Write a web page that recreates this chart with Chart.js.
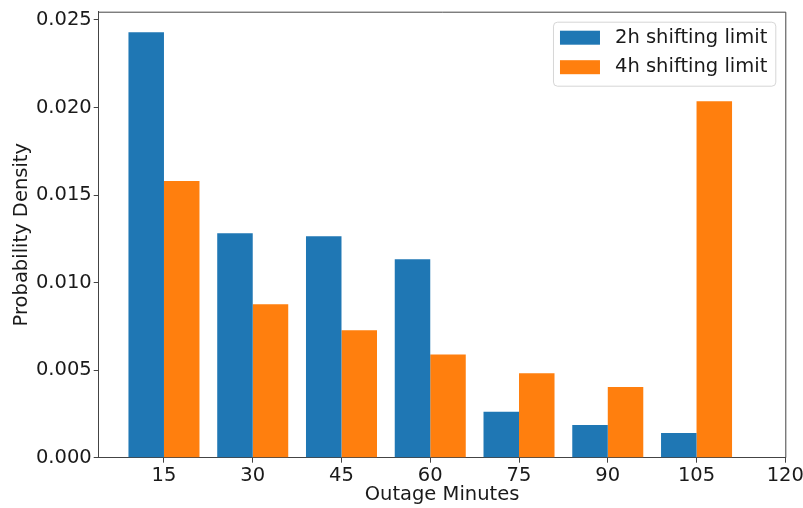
<!DOCTYPE html>
<html>
<head>
<meta charset="utf-8">
<script src="https://cdn.jsdelivr.net/npm/chart.js@4/dist/chart.umd.min.js"></script>
<style>
  html, body { margin: 0; padding: 0; background: #fff; }
  #wrap { width: 803px; height: 508px; }
</style>
</head>
<body>
<div id="wrap"><canvas id="c" width="803" height="508"></canvas></div>
<script>
// Outage-duration bins (minutes) and probability density per bin
const binMinutes = [15, 30, 45, 60, 75, 90, 105];
const limit2h = [0.02430, 0.01282, 0.01265, 0.01133, 0.00263, 0.00187, 0.00141];
const limit4h = [0.01580, 0.00876, 0.00728, 0.00590, 0.00482, 0.00404, 0.02036];
const xTickValues = [15, 30, 45, 60, 75, 90, 105, 120];
const yTickValues = [0.000, 0.005, 0.010, 0.015, 0.020, 0.025];
const seriesNames = ['2h shifting limit', '4h shifting limit'];

const FONT = 'DejaVu Sans';
const FSIZE = 19.5;
const SPINE = '#444';

const toPoints = (vals) => vals.map((v, i) => ({ x: binMinutes[i], y: v }));

// Frame on all four sides plus a boxed legend in the top-right corner
const framePlugin = {
  id: 'frame',
  afterDatasetsDraw(chart) {
    const { ctx, chartArea: a } = chart;
    ctx.save();
    ctx.strokeStyle = SPINE;
    ctx.lineWidth = 1;
    ctx.beginPath();
    ctx.moveTo(a.left, a.top + 0.5);
    ctx.lineTo(a.right + 0.5, a.top + 0.5);
    ctx.lineTo(a.right + 0.5, a.bottom);
    ctx.stroke();
    ctx.restore();

    // legend
    const items = chart.data.datasets.map(d => ({ label: d.label, color: d.backgroundColor }));
    ctx.save();
    ctx.font = FSIZE + 'px "' + FONT + '"';
    const textW = Math.max(...items.map(it => ctx.measureText(it.label).width));
    const w = 7 + 40 + 15 + textW + 8;
    const h = 64;
    const x0 = a.right - 10 - w;
    const y0 = a.top + 10;
    ctx.globalAlpha = 0.8;
    ctx.fillStyle = '#fff';
    ctx.strokeStyle = '#cccccc';
    ctx.lineWidth = 1;
    ctx.beginPath();
    ctx.roundRect(x0 + 0.5, y0 + 0.5, w, h, 4);
    ctx.fill();
    ctx.stroke();
    ctx.globalAlpha = 1;
    items.forEach((it, i) => {
      const cy = y0 + 16 + i * 29.5;
      ctx.fillStyle = it.color;
      ctx.fillRect(x0 + 7, cy - 7, 40, 14);
      ctx.fillStyle = '#1a1a1a';
      ctx.textBaseline = 'middle';
      ctx.textAlign = 'left';
      ctx.fillText(it.label, x0 + 7 + 40 + 15, cy);
    });
    ctx.restore();
  }
};

new Chart(document.getElementById('c'), {
  type: 'bar',
  data: {
    datasets: [
      { label: seriesNames[0], data: toPoints(limit2h), backgroundColor: '#1f77b4', borderWidth: 0 },
      { label: seriesNames[1], data: toPoints(limit4h), backgroundColor: '#ff7f0e', borderWidth: 0 }
    ]
  },
  options: {
    responsive: false,
    animation: false,
    events: [],
    layout: { padding: { left: 0, right: 17.7, top: 11.7, bottom: 0 } },
    datasets: { bar: { categoryPercentage: 0.8, barPercentage: 1.0, grouped: true } },
    plugins: { legend: { display: false }, tooltip: { enabled: false } },
    scales: {
      x: {
        type: 'linear',
        offset: false,
        min: 3.97,
        max: 120,
        afterBuildTicks: (s) => { s.ticks = xTickValues.map(v => ({ value: v })); },
        afterFit: (s) => { s.height = 50.3; s.paddingLeft = 0; s.paddingRight = 0; },
        grid: { display: true, offset: false, drawOnChartArea: false, drawTicks: true, tickLength: 5, color: SPINE, tickWidth: 1 },
        border: { display: true, color: SPINE, width: 1 },
        ticks: { color: '#1a1a1a', padding: 2, maxRotation: 0, autoSkip: false, font: { family: FONT, size: FSIZE } },
        title: { display: true, text: 'Outage Minutes', color: '#1a1a1a', font: { family: FONT, size: FSIZE }, padding: { top: 0, bottom: 1 } }
      },
      y: {
        type: 'linear',
        min: 0,
        max: 0.02547,
        afterBuildTicks: (s) => { s.ticks = yTickValues.map(v => ({ value: v })); },
        afterFit: (s) => { s.width = 98.7; s.paddingTop = 0; s.paddingBottom = 0; },
        grid: { display: true, drawOnChartArea: false, drawTicks: true, tickLength: 5, color: SPINE, tickWidth: 1 },
        border: { display: true, color: SPINE, width: 1 },
        ticks: { color: '#1a1a1a', padding: 2, autoSkip: false, font: { family: FONT, size: FSIZE }, callback: (v) => Number(v).toFixed(3) },
        title: { display: true, text: 'Probability Density', color: '#1a1a1a', font: { family: FONT, size: FSIZE }, padding: { top: 10, bottom: 0 } }
      }
    }
  },
  plugins: [framePlugin]
});
</script>
</body>
</html>
